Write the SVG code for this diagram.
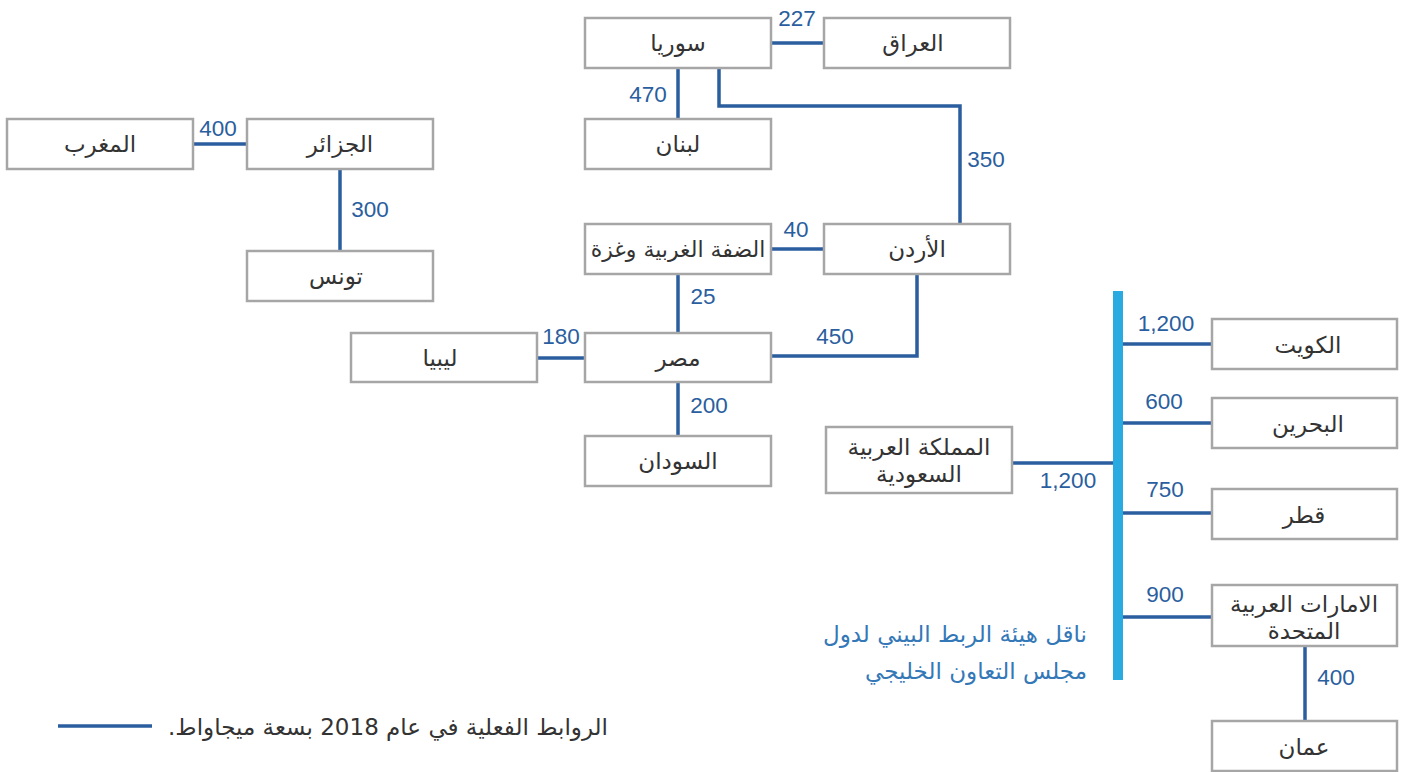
<svg xmlns="http://www.w3.org/2000/svg" width="1405" height="772" viewBox="0 0 1405 772">
<style>
.box{fill:#fff;stroke:#a6a6a6;stroke-width:2.5}
.lbl{font-family:"DejaVu Sans",sans-serif;font-size:23px;fill:#333;text-anchor:middle}
.num{font-family:"Liberation Sans",Arial,sans-serif;font-size:22.5px;fill:#2a5e9e;text-anchor:middle}
.ln{fill:none;stroke:#2a5e9e;stroke-width:3.5}
.bar{font-family:"DejaVu Sans",sans-serif;font-size:23px;fill:#3478b8}
.leg{font-family:"DejaVu Sans",sans-serif;font-size:23px;fill:#333}
</style>
<rect width="1405" height="772" fill="#fff"/>
<g id="connectors">
<path class="ln" d="M771 43H824"/>
<path class="ln" d="M678 68V119"/>
<path class="ln" d="M719 68V106H960V224"/>
<path class="ln" d="M771 249H824"/>
<path class="ln" d="M678 274V333"/>
<path class="ln" d="M917 274V356H771"/>
<path class="ln" d="M537 358H585"/>
<path class="ln" d="M678 382V436"/>
<path class="ln" d="M193 144H247"/>
<path class="ln" d="M340 169V251"/>
<path class="ln" d="M1012 463H1113"/>
<path class="ln" d="M1123 344H1212"/>
<path class="ln" d="M1123 423H1212"/>
<path class="ln" d="M1123 513H1212"/>
<path class="ln" d="M1123 617H1212"/>
<path class="ln" d="M1305 646V721"/>
<rect x="1113" y="291" width="10" height="389" fill="#29abe2"/>
<text class="num" x="797" y="26">227</text>
<text class="num" x="648" y="102">470</text>
<text class="num" x="986" y="167">350</text>
<text class="num" x="796" y="237">40</text>
<text class="num" x="703" y="304">25</text>
<text class="num" x="835" y="344">450</text>
<text class="num" x="561" y="344">180</text>
<text class="num" x="709" y="413">200</text>
<text class="num" x="218" y="136">400</text>
<text class="num" x="370" y="217">300</text>
<text class="num" x="1068" y="488">1,200</text>
<text class="num" x="1166" y="331">1,200</text>
<text class="num" x="1164" y="409">600</text>
<text class="num" x="1165" y="497">750</text>
<text class="num" x="1165" y="602">900</text>
<text class="num" x="1336" y="685">400</text>
</g>
<g id="n-syria"><rect class="box" x="585" y="18" width="186" height="50"/><text class="lbl" x="678" y="51">سوريا</text></g>
<g id="n-iraq"><rect class="box" x="824" y="18" width="186" height="50"/><text class="lbl" x="913" y="51">العراق</text></g>
<g id="n-lebanon"><rect class="box" x="585" y="119" width="186" height="50"/><text class="lbl" x="678" y="152">لبنان</text></g>
<g id="n-westbank"><rect class="box" x="585" y="224" width="186" height="50"/><text class="lbl" x="678" y="257" style="font-size:22px">الضفة الغربية وغزة</text></g>
<g id="n-jordan"><rect class="box" x="824" y="224" width="186" height="50"/><text class="lbl" x="917" y="257">الأردن</text></g>
<g id="n-morocco"><rect class="box" x="7" y="119" width="186" height="50"/><text class="lbl" x="100" y="152">المغرب</text></g>
<g id="n-algeria"><rect class="box" x="247" y="119" width="186" height="50"/><text class="lbl" x="340" y="152">الجزائر</text></g>
<g id="n-tunisia"><rect class="box" x="247" y="251" width="186" height="50"/><text class="lbl" x="336" y="284">تونس</text></g>
<g id="n-libya"><rect class="box" x="351" y="333" width="186" height="49"/><text class="lbl" x="440" y="366">ليبيا</text></g>
<g id="n-egypt"><rect class="box" x="585" y="333" width="186" height="49"/><text class="lbl" x="678" y="366">مصر</text></g>
<g id="n-sudan"><rect class="box" x="585" y="436" width="186" height="50"/><text class="lbl" x="678" y="469">السودان</text></g>
<g id="n-saudi"><rect class="box" x="826" y="427" width="186" height="66"/><text class="lbl" x="919" y="455">المملكة العربية</text><text class="lbl" x="919" y="482">السعودية</text></g>
<g id="n-kuwait"><rect class="box" x="1212" y="319" width="185" height="50"/><text class="lbl" x="1308" y="353">الكويت</text></g>
<g id="n-bahrain"><rect class="box" x="1212" y="398" width="185" height="50"/><text class="lbl" x="1308" y="432">البحرين</text></g>
<g id="n-qatar"><rect class="box" x="1212" y="489" width="185" height="50"/><text class="lbl" x="1304" y="523">قطر</text></g>
<g id="n-uae"><rect class="box" x="1212" y="585" width="185" height="61"/><text class="lbl" x="1304" y="612">الامارات العربية</text><text class="lbl" x="1304" y="639">المتحدة</text></g>
<g id="n-oman"><rect class="box" x="1212" y="721" width="185" height="50"/><text class="lbl" x="1304" y="755">عمان</text></g>
<g id="gcc-label">
<text class="bar" x="1087" y="642" direction="rtl" text-anchor="start">ناقل هيئة الربط البيني لدول</text>
<text class="bar" x="1087" y="679" direction="rtl" text-anchor="start">مجلس التعاون الخليجي</text>
</g>
<g id="legend">
<path class="ln" d="M58 726H152"/>
<text class="leg" x="608" y="735" direction="rtl" text-anchor="start">الروابط الفعلية في عام 2018 بسعة ميجاواط.</text>
</g>
</svg>
